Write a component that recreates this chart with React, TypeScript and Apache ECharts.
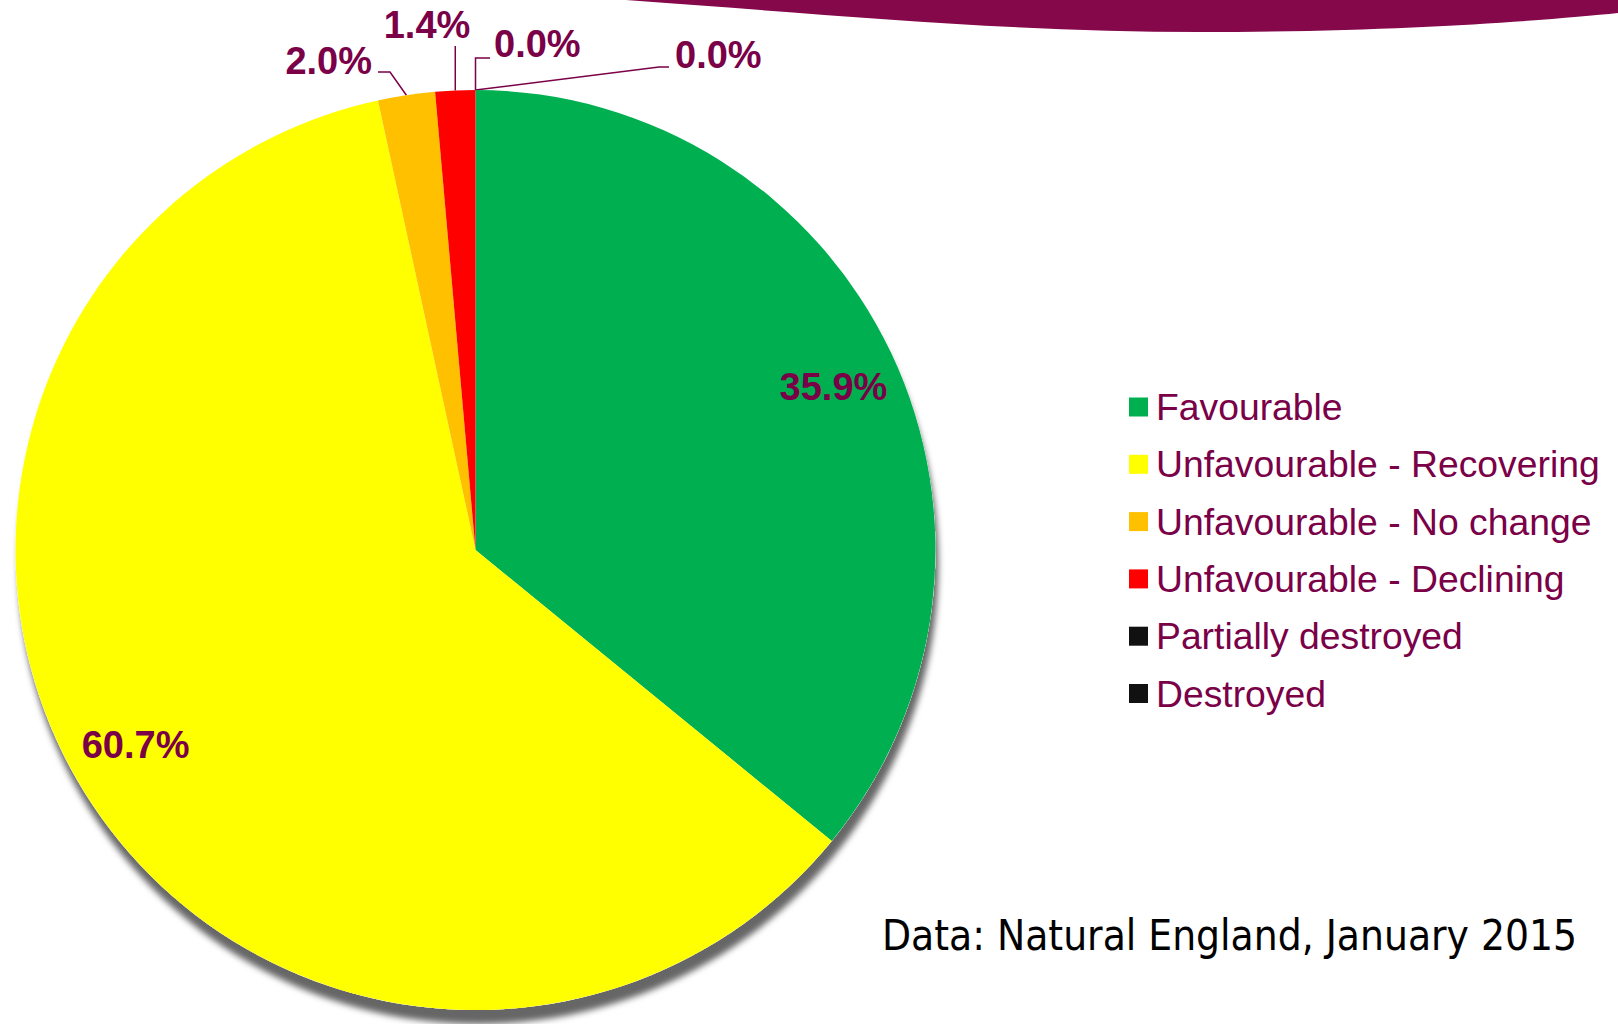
import React, { useEffect, useRef } from "react";
import * as echarts from "echarts";

const categories = [
  "Favourable",
  "Unfavourable - Recovering",
  "Unfavourable - No change",
  "Unfavourable - Declining",
  "Partially destroyed",
  "Destroyed",
];
const values = [35.9, 60.7, 2.0, 1.4, 0.0, 0.0];
const colors = ["#00b050", "#ffff00", "#ffc000", "#ff0000", "#111111", "#111111"];
const insideLabelIndices = [0, 1];
const sourceNote = "Data: Natural England, January 2015";

const PURPLE = "#7a0048";
const CX = 475.5;
const CY = 550;
const R = 460;

// label placement (layout only)
const outsideLayout: Record<number, any> = {
  2: { x: 372, y: 61, align: "right", pts: (s: number[]) => [s, [390, 72], [378, 72]] },
  3: { x: 427, y: 25, align: "center", pts: (s: number[]) => [s, [s[0], 46]] },
  4: { x: 494, y: 44, align: "left", pts: (s: number[]) => [s, [s[0], 58], [490, 58]] },
  5: { x: 675, y: 55, align: "left", pts: (s: number[]) => [s, [659, 67], [669, 67]] },
};
const insideNudge: Record<number, number[]> = {
  0: [2, 6],
  1: [-4, -11],
};

echarts.graphic.registerShape(
  "topband",
  echarts.graphic.extendPath(
    "M626 0 C 800 12, 1000 32, 1200 32 C 1400 32, 1550 20, 1618 13 L 1618 0 Z",
    {}
  )
);

export default function App() {
  const ref = useRef<HTMLDivElement>(null);
  useEffect(() => {
    document.body.style.margin = "0";
    const chart = echarts.init(ref.current!, null, { renderer: "svg" });
    const fmt = (p: any) => Number(p.percent).toFixed(1) + "%";
    const labelFont = {
      fontFamily: "'Liberation Sans', Arial, sans-serif",
      fontWeight: "bold",
      fontSize: 38,
      color: PURPLE,
    };
    const mainData = categories.map((name, i) => ({
      name,
      value: values[i],
      itemStyle: { color: colors[i] },
      label: { show: !insideLabelIndices.includes(i) },
      labelLine: { show: !insideLabelIndices.includes(i) },
    }));
    const labelData = categories.map((name, i) => ({
      name,
      value: values[i],
      itemStyle: { color: "rgba(0,0,0,0)" },
      label: { show: insideLabelIndices.includes(i) },
    }));
    chart.setOption({
      animation: false,
      backgroundColor: "#ffffff",
      legend: {
        orient: "vertical",
        left: 1129,
        top: 387,
        padding: 0,
        itemWidth: 19,
        itemHeight: 19,
        itemGap: 17.3,
        icon: "rect",
        data: categories,
        selectedMode: false,
        textStyle: {
          fontFamily: "'Liberation Sans', Arial, sans-serif",
          fontSize: 37.3,
          lineHeight: 40,
          color: PURPLE,
          padding: [0, 0, 0, 3],
        },
      },
      graphic: [
        {
          type: "topband",
          x: 0,
          y: 0,
          style: { fill: "#84084a" },
          silent: true,
        },
        {
          type: "text",
          left: 882,
          top: 914,
          style: {
            text: sourceNote,
            fill: "#000000",
            font: "42px 'DejaVu Sans Condensed', 'DejaVu Sans', sans-serif",
          },
          silent: true,
        },
      ],
      series: [
        {
          type: "pie",
          name: "shadow",
          center: [CX, CY],
          radius: R,
          silent: true,
          z: 1,
          label: { show: false },
          labelLine: { show: false },
          data: [
            {
              name: "_shadow",
              value: 1,
              itemStyle: {
                color: "#ffffff",
                shadowColor: "rgba(0,0,0,0.6)",
                shadowBlur: 6,
                shadowOffsetX: 3,
                shadowOffsetY: 14,
              },
            },
          ],
        },
        {
          type: "pie",
          name: "status",
          center: [CX, CY],
          radius: R,
          startAngle: 90,
          clockwise: true,
          z: 2,
          percentPrecision: 1,
          avoidLabelOverlap: false,
          itemStyle: { borderWidth: 0 },
          emphasis: { disabled: true },
          label: {
            position: "outside",
            formatter: fmt,
            ...labelFont,
          },
          labelLine: {
            show: true,
            length: 10,
            length2: 10,
            lineStyle: { color: PURPLE, width: 1.5 },
          },
          labelLayout: (p: any) => {
            const cfg = outsideLayout[p.dataIndex];
            if (!cfg) return {};
            const s = p.labelLinePoints ? p.labelLinePoints[0] : [CX, CY - R];
            return {
              x: cfg.x,
              y: cfg.y,
              align: cfg.align,
              verticalAlign: "middle",
              labelLinePoints: cfg.pts(s),
            };
          },
          data: mainData,
        },
        {
          type: "pie",
          name: "labels",
          center: [CX, CY],
          radius: [R * 0.7, R],
          startAngle: 90,
          clockwise: true,
          silent: true,
          z: 3,
          percentPrecision: 1,
          legendHoverLink: false,
          emphasis: { disabled: true },
          label: {
            position: "inside",
            formatter: fmt,
            ...labelFont,
          },
          labelLine: { show: false },
          labelLayout: (p: any) => {
            const n = insideNudge[p.dataIndex];
            if (!n) return {};
            return { dx: n[0], dy: n[1] };
          },
          data: labelData,
        },
      ],
    });
    return () => chart.dispose();
  }, []);
  return <div ref={ref} style={{ width: 1618, height: 1024 }} />;
}
